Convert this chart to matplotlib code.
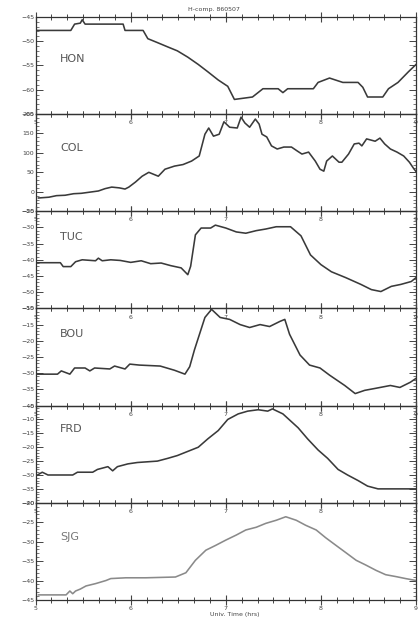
'''H-component magnetograms, six stations, 1986-05-07'''
import matplotlib
matplotlib.use('Agg')
import matplotlib.pyplot as plt
from matplotlib.ticker import MultipleLocator

TITLE = 'H-comp. 860507'
XLABEL = 'Univ. Time (hrs)'
STATIONS = ['HON', 'COL', 'TUC', 'BOU', 'FRD', 'SJG']
YLIMS = [(-65, -45), (-50, 200), (-55, -25), (-40, -10), (-40, -5), (-45, -20)]

hon_t = [5.0, 5.37, 5.41, 5.47, 5.49, 5.52, 5.92, 5.94, 6.13, 6.18, 6.28, 6.39, 6.49, 6.6,
         6.71, 6.81, 6.92, 7.02, 7.09, 7.28, 7.39, 7.55, 7.6, 7.65, 7.92, 7.97, 8.09, 8.23,
         8.39, 8.44, 8.49, 8.65, 8.71, 8.81, 8.92, 9.0]
hon_v = [-47.8, -47.8, -46.5, -46.3, -45.6, -46.5, -46.5, -47.8, -47.8, -49.5, -50.3, -51.2,
         -52.0, -53.3, -54.8, -56.3, -58.0, -59.3, -62.0, -61.5, -59.8, -59.8, -60.6, -59.8,
         -59.8, -58.5, -57.6, -58.5, -58.5, -59.5, -61.5, -61.5, -59.8, -58.5, -56.3, -54.8]

col_t = [5.03, 5.14, 5.22, 5.31, 5.4, 5.48, 5.57, 5.66, 5.73, 5.8, 5.88, 5.94, 5.98, 6.05,
         6.12, 6.19, 6.29, 6.36, 6.46, 6.55, 6.64, 6.72, 6.78, 6.82, 6.87, 6.93, 6.98, 7.04,
         7.12, 7.16, 7.2, 7.25, 7.31, 7.35, 7.38, 7.43, 7.48, 7.54, 7.61, 7.69, 7.75, 7.8,
         7.87, 7.94, 7.99, 8.03, 8.06, 8.12, 8.19, 8.22, 8.29, 8.35, 8.4, 8.43, 8.48, 8.57,
         8.62, 8.67, 8.73, 8.8, 8.87, 8.93, 8.98, 9.0]
col_v = [-16, -14, -10, -9, -5, -4, -1, 2, 8, 12, 10, 7, 12, 25, 40, 50, 40, 58, 66, 70, 79,
         92, 148, 164, 143, 148, 180, 166, 164, 192, 177, 166, 187, 174, 148, 141, 118, 110,
         115, 115, 105, 97, 102, 79, 58, 53, 79, 92, 76, 76, 97, 123, 125, 118, 136, 130, 138,
         123, 110, 102, 92, 76, 58, 52]

tuc_t = [5.0, 5.26, 5.29, 5.37, 5.42, 5.49, 5.63, 5.66, 5.7, 5.79, 5.89, 6.0, 6.11, 6.21,
         6.32, 6.42, 6.53, 6.6, 6.63, 6.68, 6.74, 6.84, 6.89, 7.0, 7.11, 7.21, 7.32, 7.42,
         7.53, 7.68, 7.79, 7.89, 8.0, 8.11, 8.26, 8.42, 8.53, 8.63, 8.74, 8.84, 8.95, 9.0]
tuc_v = [-40.9, -40.9, -42.1, -42.1, -40.6, -40.0, -40.3, -39.5, -40.3, -40.0, -40.2, -40.8,
         -40.3, -41.2, -41.0, -41.8, -42.5, -44.6, -42.0, -32.3, -30.2, -30.2, -29.3, -30.2,
         -31.4, -31.8, -31.0, -30.5, -29.8, -29.8, -32.6, -38.5, -41.5, -43.7, -45.5, -47.6,
         -49.2, -49.8, -48.2, -47.6, -46.7, -45.5]

bou_t = [5.0, 5.23, 5.27, 5.36, 5.41, 5.52, 5.57, 5.62, 5.78, 5.83, 5.94, 5.99, 6.09, 6.31,
         6.46, 6.57, 6.62, 6.67, 6.78, 6.85, 6.94, 7.04, 7.15, 7.25, 7.36, 7.46, 7.57, 7.62,
         7.67, 7.78, 7.88, 7.99, 8.09, 8.25, 8.36, 8.46, 8.57, 8.73, 8.83, 8.94, 9.0]
bou_v = [-30.3, -30.3, -29.3, -30.3, -28.4, -28.4, -29.3, -28.4, -28.7, -27.8, -28.7, -27.2,
         -27.5, -27.8, -29.1, -30.3, -28.0, -22.8, -12.8, -10.3, -12.8, -13.4, -15.0, -15.9,
         -15.0, -15.6, -14.0, -13.4, -18.0, -24.4, -27.5, -28.4, -30.6, -33.8, -36.3, -35.3,
         -34.7, -33.8, -34.4, -32.8, -31.6]

frd_t = [5.02, 5.07, 5.13, 5.39, 5.44, 5.6, 5.65, 5.76, 5.81, 5.86, 5.97, 6.07, 6.28, 6.39,
         6.49, 6.6, 6.71, 6.81, 6.92, 7.02, 7.13, 7.23, 7.34, 7.44, 7.49, 7.6, 7.76, 7.86,
         7.97, 8.07, 8.18, 8.28, 8.39, 8.49, 8.6, 9.0]
frd_v = [-30, -29, -30, -30, -29, -29, -28, -27, -28.5, -27, -26, -25.5, -25, -24, -23, -21.5,
         -20, -17, -14, -10, -8, -7, -6.5, -7, -6.2, -8, -13, -17, -21, -24, -28, -30, -32,
         -34, -35, -35]

sjg_t = [5.03, 5.32, 5.36, 5.39, 5.42, 5.47, 5.53, 5.63, 5.74, 5.79, 5.95, 6.16, 6.47, 6.58,
         6.68, 6.79, 6.89, 7.0, 7.11, 7.21, 7.32, 7.42, 7.53, 7.63, 7.74, 7.84, 7.95, 8.05,
         8.16, 8.26, 8.37, 8.47, 8.58, 8.68, 8.79, 8.89, 9.0]
sjg_v = [-43.7, -43.7, -42.7, -43.4, -42.7, -42.2, -41.4, -40.8, -40.0, -39.5, -39.3, -39.3,
         -39.1, -38.0, -34.8, -32.2, -31.0, -29.6, -28.3, -27.0, -26.3, -25.3, -24.5, -23.6,
         -24.5, -25.8, -27.0, -29.0, -31.0, -32.8, -34.8, -36.0, -37.4, -38.5, -39.0, -39.5,
         -40.0]

series = [(hon_t, hon_v), (col_t, col_v), (tuc_t, tuc_v),
          (bou_t, bou_v), (frd_t, frd_v), (sjg_t, sjg_v)]
label_y = [0.53, 0.62, 0.70, 0.71, 0.73, 0.62]


def run():
    fig, axes = plt.subplots(6, 1, figsize=(4.19, 6.23), dpi=100, sharex=True)
    fig.subplots_adjust(left=0.085, right=0.993, top=0.973, bottom=0.037, hspace=0)
    for i, ax in enumerate(axes):
        t, v = series[i]
        col = '#8a8a8a' if STATIONS[i] == 'SJG' else '#3a3a3a'
        ax.set_facecolor('none')  # so the tick labels of the panel above show through
        ax.plot(t, v, color=col, lw=1.15)
        ax.set_xlim(5, 9)
        ax.set_ylim(*YLIMS[i])
        ax.text(0.065, label_y[i], STATIONS[i], transform=ax.transAxes,
                fontsize=8, color='#777777' if STATIONS[i] == 'SJG' else '#555555')
        step = 50 if STATIONS[i] == 'COL' else 5
        ax.yaxis.set_major_locator(MultipleLocator(step))
        ax.yaxis.set_minor_locator(MultipleLocator(step / 5))
        ax.xaxis.set_major_locator(MultipleLocator(1))
        ax.xaxis.set_minor_locator(MultipleLocator(1 / 6))
        ax.tick_params(axis='x', which='both', direction='inout', top=True,
                       labelbottom=True, labelsize=4.5, colors='#444444', pad=1)
        ax.tick_params(axis='x', which='major', length=7, width=0.8)
        ax.tick_params(axis='x', which='minor', length=4, width=0.7)
        ax.tick_params(axis='y', which='both', direction='in', right=True,
                       labelsize=4.5, colors='#444444', pad=1)
        ax.tick_params(axis='y', which='major', length=5, width=0.7)
        ax.tick_params(axis='y', which='minor', length=2.5, width=0.5)
        for s in ax.spines.values():
            s.set_color('#333333')
            s.set_linewidth(0.9)
    fig.text(0.51, 0.985, TITLE, ha='center', va='center', fontsize=4.5, color='#444444')
    fig.text(0.56, 0.014, XLABEL, ha='center', va='center', fontsize=4.5, color='#444444')
    fig.savefig('out.png', dpi=100, facecolor='white')


if __name__ == '__main__':
    run()
